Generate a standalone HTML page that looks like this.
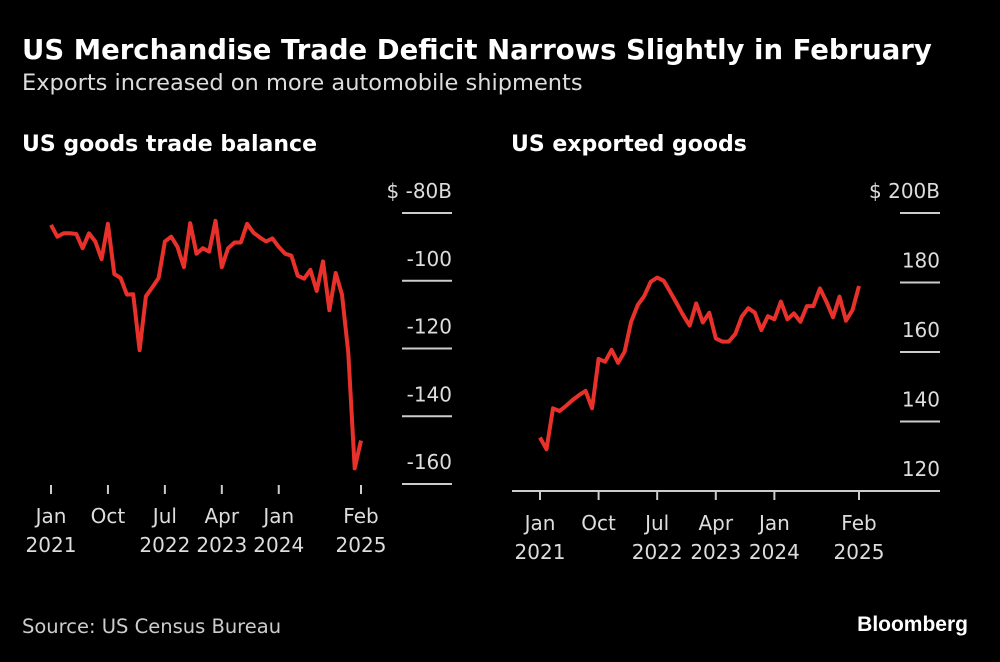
<!DOCTYPE html>
<html><head><meta charset="utf-8"><style>
body{margin:0;background:#000;width:1000px;height:658px;overflow:hidden;font-family:"DejaVu Sans","Liberation Sans",sans-serif;color:#fff}
</style></head><body>
<svg id="c" width="1000" height="658" xmlns="http://www.w3.org/2000/svg" font-family="DejaVu Sans, Liberation Sans, sans-serif">
<text x="22" y="59" font-size="27.5" font-weight="bold" fill="#fff">US Merchandise Trade Deficit Narrows Slightly in February</text>
<text x="22" y="90" font-size="22.5" fill="#ddd">Exports increased on more automobile shipments</text>
<text x="22" y="151" font-size="22" font-weight="bold" fill="#fff">US goods trade balance</text>
<text x="511" y="151" font-size="22" font-weight="bold" fill="#fff">US exported goods</text>
<text x="22" y="633" font-size="19.5" fill="#ccc">Source: US Census Bureau</text>
<text x="968" y="631" font-size="21" font-weight="bold" fill="#fff" text-anchor="end" font-family="Liberation Sans, sans-serif">Bloomberg</text>
<g id="left"></g><g id="right"></g>
</svg>
<script>
const balance=[-83.5,-87,-86,-86,-86.2,-90.4,-86,-88.4,-93.6,-83.2,-98,-99.2,-104.1,-104,-120.5,-104.6,-102,-99.2,-88.4,-87,-90,-96,-83,-92,-90.4,-91.4,-82.3,-96,-90.4,-88.7,-88.7,-83.2,-85.8,-87.2,-88.4,-87.5,-90,-92,-92.6,-98.5,-99.4,-96.8,-103,-94.3,-108.7,-97.7,-104.1,-121.3,-155.4,-147.2];
const exportsV=[135.4,132,143.8,143,144.5,146.2,147.6,148.8,143.8,158,157.2,160.6,156.9,160.1,168.7,173.5,176.1,180.2,181.4,180.5,177.3,174,170.6,167.6,174,168.5,171.3,163.9,163,163,165.2,170.2,172.6,171.3,166.3,170.3,169.4,174.5,169.4,171.1,168.7,173.2,173.2,178.3,174.5,170,175.9,169,172.1,179];
const leftTicks=[-80,-100,-120,-140,-160];
const leftTickLabels=["$ -80B","-100","-120","-140","-160"];
const rightTicks=[200,180,160,140,120];
const rightTickLabels=["$ 200B","180","160","140","120"];
const xTickMonths=[0,9,18,27,36,49];
const xTickMonthLabels=["Jan","Oct","Jul","Apr","Jan","Feb"];
const xTickYearLabels=["2021","","2022","2023","2024","2025"];
const NS="http://www.w3.org/2000/svg";
function mk(p,t,a){const e=document.createElementNS(NS,t);for(const k in a)e.setAttribute(k,a[k]);p.appendChild(e);return e;}
function panel(g,data,ticks,tlabels,x0,x1,vTop,yTop,vBot,yBot,gx0,gx1,baseline,tickTop,labY){
  const xs=m=>x0+(x1-x0)*m/49;
  const ys=v=>yTop+(v-vTop)*(yBot-yTop)/(vBot-vTop);
  ticks.forEach((t,i)=>{
    const y=ys(t);
    const l=mk(g,'line',{x1:gx0,x2:gx1,y1:y,y2:y,stroke:'#ccc','stroke-width':2});
    
    
    const tx=mk(g,'text',{x:gx1,y:y-15,'font-size':20,fill:'#ddd','text-anchor':'end'});
    tx.textContent=tlabels[i];
    
    
  });
  if(baseline){
    const b=mk(g,'line',{x1:baseline[0],x2:baseline[1],y1:tickTop,y2:tickTop,stroke:'#ccc','stroke-width':2});
    
    
  }
  xTickMonths.forEach((m,i)=>{
    const x=xs(m);
    const t=mk(g,'line',{x1:x,x2:x,y1:tickTop,y2:tickTop+9,stroke:'#ccc','stroke-width':2});
    
    
    const a=mk(g,'text',{x:x,y:labY,'font-size':20,fill:'#ddd','text-anchor':'middle'});
    a.textContent=xTickMonthLabels[i];
    
    
    if(xTickYearLabels[i]){
      const b=mk(g,'text',{x:x,y:labY+29,'font-size':20,fill:'#ddd','text-anchor':'middle'});
      b.textContent=xTickYearLabels[i];
      
      
    }
  });
  const d=data.map((v,i)=>(i?'L':'M')+xs(i).toFixed(1)+','+ys(v).toFixed(1)).join('');
  const p=mk(g,'path',{d:d,fill:'none',stroke:'#e8312a','stroke-width':4,'stroke-linejoin':'round'});
  
  
}
panel(document.getElementById('left'),balance,leftTicks,leftTickLabels,51,361,-80,213,-160,484,402,452,null,485,523);
panel(document.getElementById('right'),exportsV,rightTicks,rightTickLabels,540,859,200,213,120,491,900,940,[512,938],491,530);
</script>
</body></html>
